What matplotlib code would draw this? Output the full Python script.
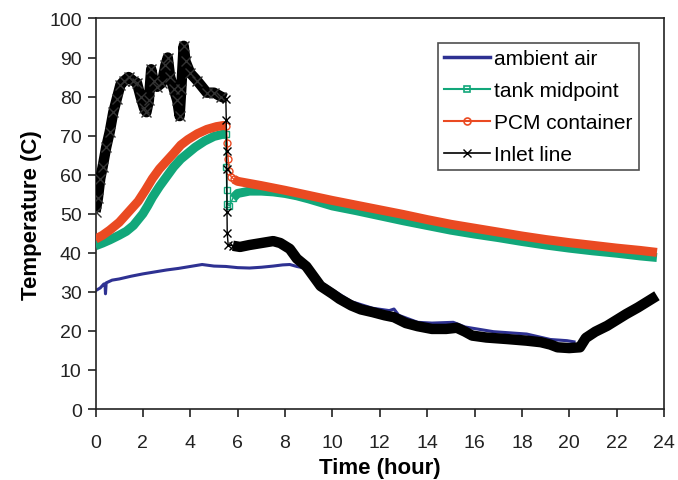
import matplotlib
matplotlib.use("Agg")
import matplotlib.pyplot as plt
from matplotlib.lines import Line2D

plt.rcParams['font.family'] = ['Liberation Sans', 'DejaVu Sans']

# ---- data ----
ambient_t = [0.0, 0.2, 0.35, 0.40, 0.42, 0.45, 0.7, 1.0, 1.5, 2.0, 2.4, 3.0, 3.5, 3.8,
             4.5, 5.0, 5.5, 6.0, 6.5, 7.0, 7.5, 7.9, 8.2, 8.5, 8.9, 9.2, 9.5, 10.0,
             10.8, 11.7, 12.4, 12.6, 12.8, 13.6, 14.2, 15.1, 15.6, 16.8, 18.2, 19.2,
             19.9, 20.2]
ambient_v = [30.3, 31.0, 32.0, 32.0, 29.5, 32.3, 33.0, 33.3, 34.0, 34.6, 35.0, 35.6,
             36.0, 36.3, 37.0, 36.6, 36.5, 36.2, 36.1, 36.3, 36.6, 36.9, 37.0, 36.5,
             36.0, 34.5, 32.5, 30.5, 27.5, 25.8, 25.2, 25.6, 24.0, 22.2, 22.0, 22.2,
             21.0, 19.8, 19.2, 17.8, 17.5, 17.2]

inlet_t = [0.0, 0.1, 0.2, 0.3, 0.45, 0.6, 0.75, 0.9, 1.05, 1.2, 1.4, 1.6, 1.75, 1.9,
           2.05, 2.15, 2.25, 2.35, 2.45, 2.6, 2.8, 2.95, 3.05, 3.15, 3.3, 3.45, 3.55,
           3.62, 3.72, 3.8, 4.0, 4.3, 4.7, 5.0, 5.3, 5.5,
           5.52, 5.53, 5.54, 5.55, 5.56, 5.6,
           5.8, 6.1, 6.5, 7.0, 7.5, 7.8, 8.2, 8.5, 8.9, 9.2, 9.5, 10.0, 10.3, 10.8,
           11.2, 11.7, 12.2, 12.6, 13.1, 13.6, 14.2, 14.8, 15.25, 15.6, 15.9, 16.5,
           17.4, 18.2, 18.8, 19.2, 19.5, 20.0, 20.45, 20.7, 21.1, 21.6, 22.0, 22.4,
           22.9, 23.3, 23.7]
inlet_v = [50.5, 54.0, 59.0, 62.0, 67.0, 71.0, 76.0, 79.5, 83.0, 84.0, 85.0, 84.0,
           83.5, 80.0, 77.0, 76.0, 79.0, 87.0, 84.0, 82.5, 83.5, 88.0, 90.0, 85.0,
           82.0, 79.0, 75.0, 82.0, 93.0, 89.0, 86.0, 84.0, 81.0, 81.0, 80.0, 79.5,
           74.0, 66.0, 61.5, 50.5, 45.0, 42.0,
           41.8, 41.5, 42.0, 42.5, 43.0, 42.5, 41.0, 38.5, 36.5, 34.0, 31.5, 29.5,
           28.2, 26.5, 25.5, 24.8, 24.0, 23.5, 22.0, 21.2, 20.5, 20.5, 20.8, 19.8,
           18.8, 18.3, 17.9, 17.5, 17.1, 16.5, 15.8, 15.6, 15.8, 18.2, 19.8, 21.3,
           22.8, 24.3, 26.0, 27.5, 29.0]
inlet_drop = (35, 42)   # index range of the vertical drop

tank_t = [0.0, 0.3, 0.6, 1.0, 1.3, 1.6, 2.0, 2.2, 2.4, 2.7, 3.0, 3.3, 3.6, 3.8, 4.2,
          4.6, 5.0, 5.4, 5.5,
          5.52, 5.54, 5.56,
          5.65, 5.8, 6.0, 6.5, 7.0, 7.5, 8.0, 8.5, 9.0, 10.0, 11.0, 12.0, 13.0, 14.0,
          15.0, 16.0, 17.0, 18.0, 19.0, 20.0, 21.0, 22.0, 23.0, 23.7]
tank_v = [41.8, 42.5, 43.3, 44.5, 45.5, 47.0, 50.0, 52.0, 54.2, 57.0, 59.5, 62.0,
          64.0, 65.0, 67.0, 68.6, 69.8, 70.4, 70.3,
          62.0, 56.0, 52.5,
          52.0, 54.0, 55.2, 55.8, 55.8, 55.6, 55.2, 54.6, 53.8, 52.0, 50.8, 49.5,
          48.2, 47.0, 45.8, 44.8, 43.9, 42.9, 42.0, 41.2, 40.5, 39.9, 39.2, 38.8]
tank_drop = (18, 23)

pcm_t = [0.0, 0.3, 0.6, 1.0, 1.4, 1.8, 2.1, 2.4, 2.7, 3.0, 3.3, 3.6, 3.9, 4.3, 4.7,
         5.1, 5.4, 5.52,
         5.56, 5.6, 5.65, 5.72,
         5.85, 6.0, 7.0, 8.0, 9.0, 10.0, 11.0, 12.0, 13.0, 14.0, 15.0, 16.0, 17.0,
         18.0, 19.0, 20.0, 21.0, 22.0, 23.0, 23.7]
pcm_v = [43.5, 44.5, 45.8, 47.8, 50.5, 53.2, 56.0, 59.0, 61.5, 63.5, 65.5, 67.6,
         69.0, 70.5, 71.6, 72.3, 72.6, 72.5,
         68.0, 64.0, 61.0, 59.5,
         58.8, 58.3, 57.2, 56.0, 54.7, 53.4, 52.2, 51.0, 49.8, 48.5, 47.3, 46.3,
         45.3, 44.3, 43.4, 42.6, 41.9, 41.2, 40.6, 40.1]
pcm_drop = (17, 22)

labels = ["ambient air", "tank midpoint", "PCM container", "Inlet line"]
x_ticks = list(range(0, 25, 2))
y_ticks = list(range(0, 101, 10))

# ---- style ----
c_blue = "#2E3192"
c_green = "#12A77A"
c_red = "#EA4A22"
c_black = "#000000"

fig = plt.figure(figsize=(6.78, 4.81), dpi=100)
ax = fig.add_axes([0.1409, 0.1476, 0.8385, 0.8119])


def draw(t, v, drop, color, lw, marker, ms, z):
    a, b = drop
    ax.plot(t[:a + 1], v[:a + 1], color=color, lw=lw, solid_capstyle='butt',
            solid_joinstyle='round', zorder=z)
    ax.plot(t[a:b + 1], v[a:b + 1], color=color, lw=1.0, marker=marker, ms=ms,
            mfc='none', mec=color, mew=1.0, zorder=z + 0.5)
    ax.plot(t[b:], v[b:], color=color, lw=lw, solid_capstyle='butt',
            solid_joinstyle='round', zorder=z)


ax.plot(ambient_t, ambient_v, color=c_blue, lw=2.2, zorder=2)
draw(tank_t, tank_v, tank_drop, c_green, 6.5, 's', 5, 3)
draw(pcm_t, pcm_v, pcm_drop, c_red, 6.5, 'o', 5, 4)
draw(inlet_t, inlet_v, inlet_drop, c_black, 7.5, 'x', 6, 5)
ax.plot(inlet_t[:inlet_drop[0]], inlet_v[:inlet_drop[0]], ls='none', marker='x',
        ms=7, color='#333333', mew=1.0, zorder=5.2)

ax.set_xlim(0, 24)
ax.set_ylim(0, 100)
ax.set_xticks(x_ticks)
ax.set_yticks(y_ticks)
ax.tick_params(direction='out', length=6, width=1.2, labelsize=14, pad=4,
               colors='#222222')
ax.tick_params(axis='x', pad=12)
for s in ax.spines.values():
    s.set_linewidth(1.2)
    s.set_color('#222222')

ax.set_xlabel("Time (hour)", fontsize=16, fontweight='bold', labelpad=4)
ax.set_ylabel("Temperature (C)", fontsize=16, fontweight='bold', labelpad=5)

handles = [
    Line2D([], [], color=c_blue, lw=2.5),
    Line2D([], [], color=c_green, lw=1.5, marker='s', ms=5, mfc='none', mew=1.2),
    Line2D([], [], color=c_red, lw=1.5, marker='o', ms=5, mfc='none', mew=1.2),
    Line2D([], [], color=c_black, lw=1.2, marker='x', ms=6, mew=1.0),
]
leg = ax.legend(handles, labels, loc='upper left', bbox_to_anchor=(0.6025, 0.937),
                borderaxespad=0, frameon=True, fancybox=False, fontsize=15,
                handlelength=2.2, handletextpad=0.2, labelspacing=0.62,
                borderpad=0.3)
leg.get_frame().set_edgecolor('#222222')
leg.get_frame().set_linewidth(1.2)

fig.savefig("out.png", dpi=100)
